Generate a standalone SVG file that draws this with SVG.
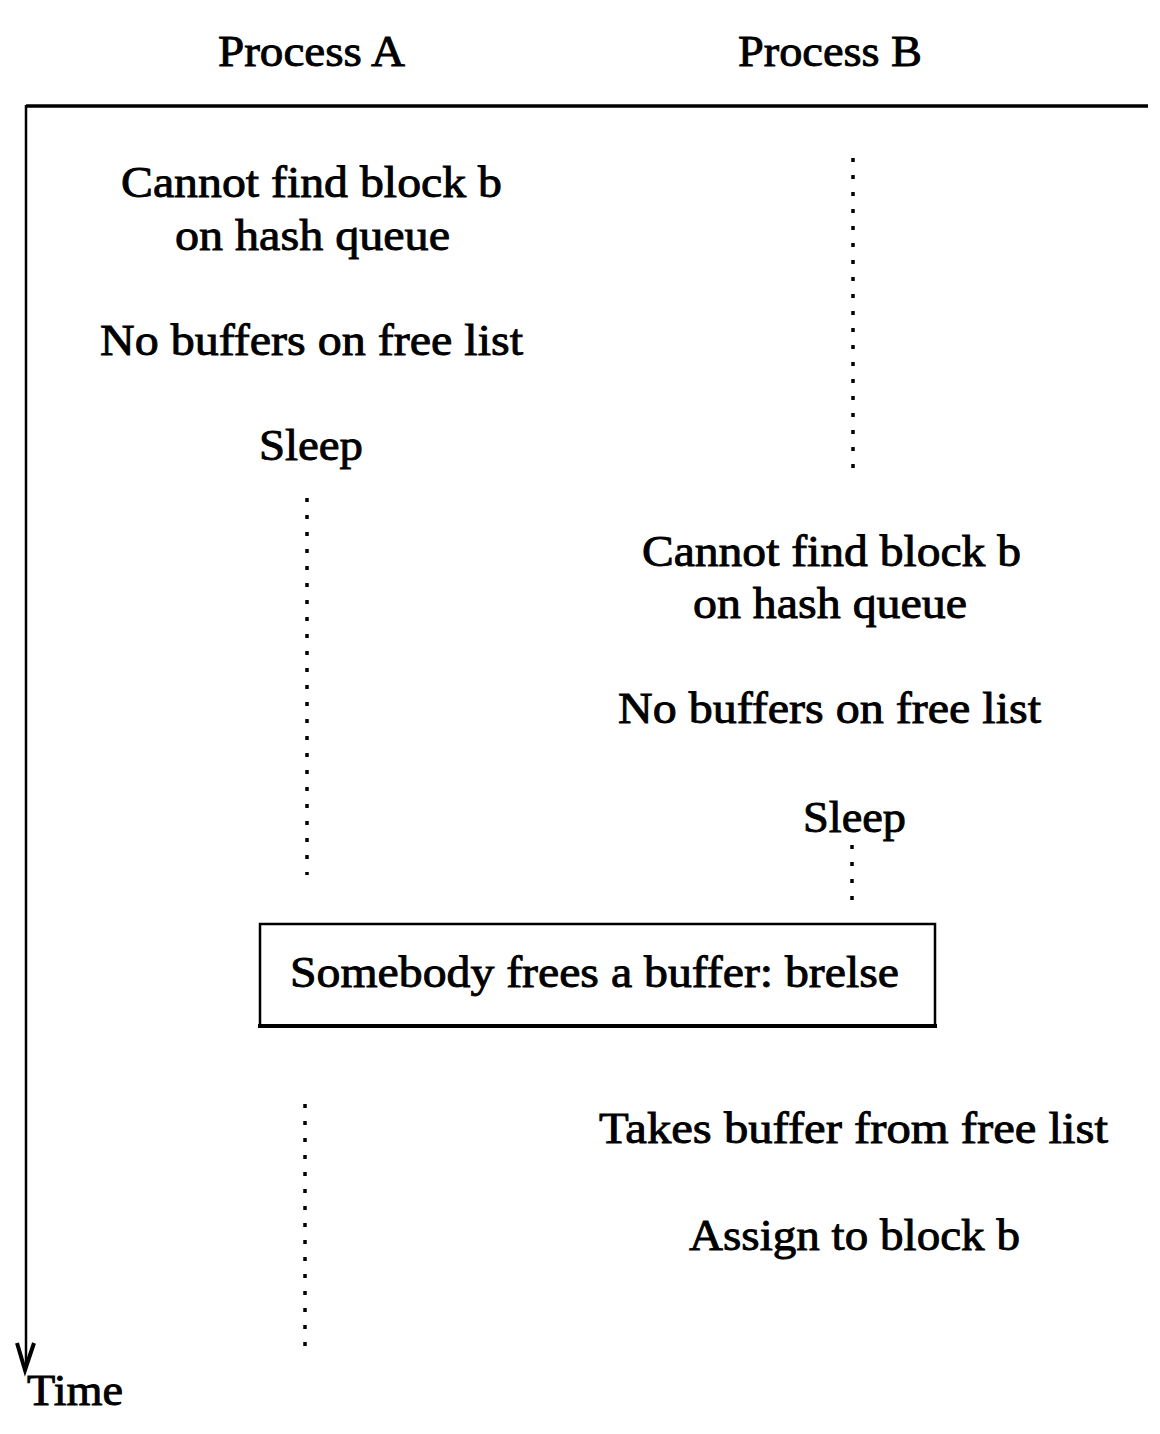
<svg xmlns="http://www.w3.org/2000/svg" width="1160" height="1434" viewBox="0 0 1160 1434">
<style>
text{font-family:"Liberation Serif","DejaVu Serif",serif;font-size:44px;fill:#000;stroke:#000;stroke-width:0.9;}
.dot{stroke:#000;stroke-width:3.5;stroke-dasharray:4 13;fill:none;}
.ax{stroke:#000;fill:none;}
</style>
<rect width="1160" height="1434" fill="#fff"/>
<g id="connectors">
<line class="ax" x1="26" y1="106" x2="1148" y2="106" stroke-width="3.5"/>
<line class="ax" x1="26" y1="105" x2="26" y2="1368" stroke-width="2.5"/>
<path class="ax" d="M17,1343 L25,1370 L34,1343" stroke-width="4"/>
<line class="dot" x1="307" y1="498" x2="307" y2="875"/>
<line class="dot" x1="853" y1="158" x2="853" y2="480"/>
<line class="dot" x1="852" y1="845" x2="852" y2="902"/>
<line class="dot" x1="305" y1="1104" x2="305" y2="1347"/>
</g>
<g id="header-a"><text x="218" y="66" textLength="187" lengthAdjust="spacingAndGlyphs">Process A</text></g>
<g id="header-b"><text x="738" y="66" textLength="184" lengthAdjust="spacingAndGlyphs">Process B</text></g>
<g id="a-cannot-find">
<text x="121" y="197" textLength="381" lengthAdjust="spacingAndGlyphs">Cannot find block b</text>
<text x="175" y="250" textLength="275" lengthAdjust="spacingAndGlyphs">on hash queue</text>
</g>
<g id="a-no-buffers"><text x="100" y="355" textLength="423" lengthAdjust="spacingAndGlyphs">No buffers on free list</text></g>
<g id="a-sleep"><text x="259" y="460" textLength="104" lengthAdjust="spacingAndGlyphs">Sleep</text></g>
<g id="b-cannot-find">
<text x="642" y="566" textLength="379" lengthAdjust="spacingAndGlyphs">Cannot find block b</text>
<text x="693" y="618" textLength="274" lengthAdjust="spacingAndGlyphs">on hash queue</text>
</g>
<g id="b-no-buffers"><text x="618" y="723" textLength="423" lengthAdjust="spacingAndGlyphs">No buffers on free list</text></g>
<g id="b-sleep"><text x="803" y="832" textLength="103" lengthAdjust="spacingAndGlyphs">Sleep</text></g>
<g id="brelse-box">
<rect x="260" y="924" width="675" height="102" fill="none" stroke="#000" stroke-width="2.5"/>
<line x1="258" y1="1026" x2="937" y2="1026" stroke="#000" stroke-width="4"/>
<text x="290" y="987" textLength="609" lengthAdjust="spacingAndGlyphs">Somebody frees a buffer: brelse</text>
</g>
<g id="b-takes"><text x="599" y="1143" textLength="509" lengthAdjust="spacingAndGlyphs">Takes buffer from free list</text></g>
<g id="b-assign"><text x="689" y="1250" textLength="331" lengthAdjust="spacingAndGlyphs">Assign to block b</text></g>
<g id="time-label"><text x="27" y="1405" textLength="96" lengthAdjust="spacingAndGlyphs">Time</text></g>
</svg>
